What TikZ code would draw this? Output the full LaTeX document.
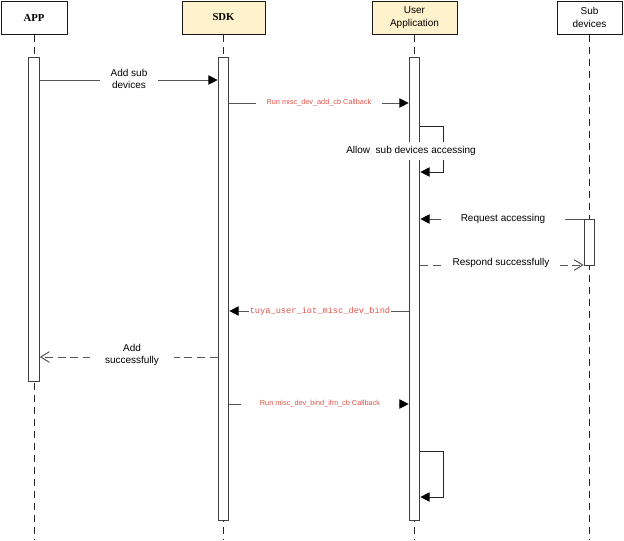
\documentclass[tikz,border=0pt]{standalone}
\usepackage{fontspec}
\setmainfont{Liberation Sans}
\newfontfamily\hdfont{Liberation Serif}
\newfontfamily\codefont{Liberation Mono}
\usetikzlibrary{arrows.meta}
\definecolor{hdrfill}{RGB}{255,242,204}
\definecolor{lnc}{RGB}{85,85,85}
\definecolor{redlbl}{RGB}{226,84,74}
\tikzset{
  hdr/.style={draw=black!90, line width=0.75pt, inner sep=0pt, minimum height=24.75pt, align=center, font=\fontsize{7.5}{9.5}\selectfont},
  hdrbold/.style={hdr, font=\hdfont\bfseries\fontsize{8}{9}\selectfont},
  life/.style={draw=black!85, line width=0.75pt, dash pattern=on 5.5pt off 3.5pt},
  bar/.style={draw=black!75, fill=white, line width=0.75pt, minimum width=8pt, inner sep=0pt},
  msg/.style={draw=lnc, line width=0.75pt, -{Triangle[length=7pt,width=7pt,color=black]}},
  ret/.style={draw=lnc, line width=0.75pt, dash pattern=on 6pt off 3.5pt, -{Straight Barb[length=6.5pt,width=8pt]}},
  self/.style={draw=black!85, line width=0.75pt, -{Triangle[length=7pt,width=7pt,color=black]}},
  lbl/.style={fill=white, align=center, inner sep=1pt, font=\fontsize{7.5}{9}\selectfont},
  redl/.style={fill=white, text=redlbl, inner ysep=1pt, font=\fontsize{5.5}{6.5}\selectfont},
  codel/.style={fill=white, text=redlbl, inner xsep=0.5pt, inner ysep=1pt, font=\codefont\fontsize{6.5}{7.5}\selectfont},
}
\begin{document}
\begin{tikzpicture}[x=0.75pt,y=-0.75pt]
\useasboundingbox (0,0) rectangle (624,540);

% headers
\node[hdrbold, minimum width=49.5pt] (app) at (34,17.5) {APP};
\node[hdrbold, fill=hdrfill, minimum width=62.25pt] (sdk) at (223.5,17.5) {SDK};
\node[hdr, fill=hdrfill, minimum width=63.75pt] (user) at (414.5,17.5) {User\\Application};
\node[hdr, minimum width=48.75pt] (sub) at (589.5,17.5) {Sub\\devices};

% lifelines
\coordinate (append) at (34,540);
\coordinate (sdkend) at (223.5,540);
\coordinate (userend) at (414.5,540);
\coordinate (subend) at (589.5,540);
\draw[life] (app.south) -- (append);
\draw[life] (sdk.south) -- (sdkend);
\draw[life] (user.south) -- (userend);
\draw[life] (sub.south) -- (subend);

% activation bars
\node[bar, minimum height=243pt] (appbar) at (34,219) {};
\node[bar, minimum height=347.25pt] (sdkbar) at (223.5,288.5) {};
\node[bar, minimum height=347.25pt] (userbar) at (414.5,288.5) {};
\node[bar, minimum height=34.5pt] (subbar) at (589.5,242) {};

% 1 Add sub devices
\draw[msg] (appbar.east |- 0,80) -- (sdkbar.west |- 0,80);
\node[lbl, inner xsep=8pt] (l1) at (129,79) {Add sub\\devices};

% 2 Run misc_dev_add_cb Callback
\draw[msg] (sdkbar.east |- 0,103) -- (userbar.west |- 0,103);
\node[redl, inner xsep=8pt] (l2) at (319,102.5) {Run misc\_dev\_add\_cb Callback};

% 3 self message
\coordinate (s1a) at (443,126);
\coordinate (s1b) at (443,172);
\draw[self] (userbar.east |- s1a) -- (s1a) -- (s1b) -- (userbar.east |- s1b);
\node[lbl, inner ysep=3pt, inner xsep=2pt] (l3) at (411,151) {Allow\ \ sub devices accessing};

% 4 Request accessing
\draw[msg] (subbar.west |- 0,219) -- (userbar.east |- 0,219);
\node[lbl, inner xsep=15pt] (l4) at (503,219) {Request accessing};

% 5 Respond successfully
\draw[ret] (userbar.east |- 0,265) -- (subbar.west |- 0,265);
\node[lbl, inner xsep=8pt] (l5) at (501,263) {Respond successfully};

% 6 tuya_user_iot_misc_dev_bind
\draw[msg] (userbar.west |- 0,311) -- (sdkbar.east |- 0,311);
\node[codel] (l6) at (320,311) {tuya\_user\_iot\_misc\_dev\_bind};

% 7 Add successfully
\draw[ret] (sdkbar.west |- 0,357) -- (appbar.east |- 0,357);
\node[lbl, inner xsep=11pt] (l7) at (132,355) {Add\\successfully};

% 8 Run misc_dev_bind_ifm_cb Callback
\draw[msg] (sdkbar.east |- 0,404) -- (userbar.west |- 0,404);
\node[redl, inner xsep=14pt] (l8) at (320,403.5) {Run misc\_dev\_bind\_ifm\_cb Callback};

% 9 self message
\coordinate (s2a) at (443,451);
\coordinate (s2b) at (443,497);
\draw[self] (userbar.east |- s2a) -- (s2a) -- (s2b) -- (userbar.east |- s2b);
\end{tikzpicture}
\end{document}
